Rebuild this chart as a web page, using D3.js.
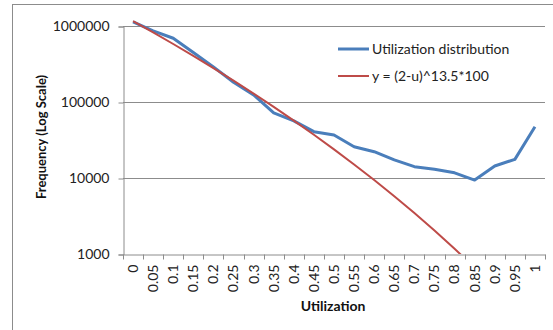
<!DOCTYPE html>
<html>
<head>
<meta charset="utf-8">
<script src="https://cdn.jsdelivr.net/npm/d3@7"></script>
<style>
  html, body { margin: 0; padding: 0; background: #fff; }
  svg { display: block; font-family: Lato, "Open Sans", sans-serif; }
</style>
</head>
<body>
<svg id="chart" width="553" height="330"></svg>
<script>
// Utilization categories (x axis)
const utilization = ["0","0.05","0.1","0.15","0.2","0.25","0.3","0.35","0.4","0.45","0.5",
                     "0.55","0.6","0.65","0.7","0.75","0.8","0.85","0.9","0.95","1"];

// Observed frequency per utilization bucket
const distribution = [1130000, 865000, 690000, 448000, 290000, 182000, 124000, 72000, 56500, 40700,
                      36800, 25800, 22200, 17300, 14100, 13000, 11700, 9400, 14400, 17600, 47300];

// Model curve y = (2-u)^13.5*100
const model = [1158524, 823130, 579660, 404410, 279370, 190990, 129140, 86300, 56965, 37109,
               23836, 15082, 9391, 5748, 3453, 2034, 1172, 660, 362, 193, 100];

const yTicks = [1000, 10000, 100000, 1000000];

const seriesNames = ["Utilization distribution", "y = (2-u)^13.5*100"];
const seriesColors = ["#4a7ebb", "#be4b48"];

const svg = d3.select("#chart");
const plot = { left: 123, right: 545, top: 26, bottom: 254 };

// chart frame
svg.append("rect")
  .attr("x", 12.5).attr("y", 4.5)
  .attr("width", 600).attr("height", 400)
  .attr("fill", "none").attr("stroke", "#8c8c8c").attr("stroke-width", 1);

const x = d3.scaleBand().domain(utilization).range([plot.left, plot.right]);
const y = d3.scaleLog().domain([1000, 1000000]).range([plot.bottom, plot.top]);
const cx = d => x(d) + x.bandwidth() / 2;

// horizontal gridlines
svg.append("g")
  .selectAll("line")
  .data(yTicks.slice(1))
  .join("line")
  .attr("x1", plot.left).attr("x2", plot.right)
  .attr("y1", d => Math.round(y(d)) + 0.5).attr("y2", d => Math.round(y(d)) + 0.5)
  .attr("stroke", "#8c8c8c").attr("stroke-width", 1);

// y axis
const yAxis = svg.append("g")
  .attr("transform", `translate(${plot.left + 0.5},0.5)`)
  .call(d3.axisLeft(y).tickValues(yTicks).tickFormat(d3.format("d")).tickSize(5).tickPadding(9));
yAxis.select(".domain").attr("stroke", "#8c8c8c");
yAxis.selectAll(".tick line").attr("stroke", "#8c8c8c");
yAxis.selectAll("text").attr("font-size", 14).attr("fill", "#222").attr("font-family", "Lato, sans-serif");

// x axis with rotated category labels
const xAxis = svg.append("g")
  .attr("transform", `translate(0,${plot.bottom + 0.5})`)
  .call(d3.axisBottom(x).tickSize(0).tickPadding(0));
xAxis.select(".domain").attr("stroke", "#8c8c8c");
xAxis.selectAll("text")
  .attr("font-size", 14).attr("fill", "#222").attr("font-family", "Lato, sans-serif")
  .attr("transform", "rotate(-90)")
  .attr("text-anchor", "end")
  .attr("x", -10).attr("y", 0).attr("dy", "0.35em");

// tick marks between categories
const bounds = utilization.map(d => x(d)).concat([plot.right]);
xAxis.append("g")
  .selectAll("line")
  .data(bounds)
  .join("line")
  .attr("x1", d => Math.round(d) + 0.5).attr("x2", d => Math.round(d) + 0.5)
  .attr("y1", 0).attr("y2", 5)
  .attr("stroke", "#8c8c8c");

// axis titles
svg.append("text")
  .attr("transform", `translate(46,137) rotate(-90)`)
  .attr("text-anchor", "middle")
  .attr("font-size", 13).attr("font-weight", "bold").attr("fill", "#111")
  .text("Frequency (Log Scale)");

svg.append("text")
  .attr("x", 333).attr("y", 311)
  .attr("text-anchor", "middle")
  .attr("font-size", 14).attr("font-weight", "bold").attr("fill", "#111")
  .text("Utilization");

// clip lines to plot area
svg.append("clipPath").attr("id", "plotClip")
  .append("rect")
  .attr("x", plot.left).attr("y", 0)
  .attr("width", plot.right - plot.left).attr("height", plot.bottom);

const line = d3.line()
  .x((d, i) => cx(utilization[i]))
  .y(d => y(d));

const lines = svg.append("g").attr("clip-path", "url(#plotClip)");

lines.append("path")
  .datum(distribution)
  .attr("d", line)
  .attr("fill", "none")
  .attr("stroke", seriesColors[0]).attr("stroke-width", 3)
  .attr("stroke-linejoin", "round");

lines.append("path")
  .datum(model)
  .attr("d", line)
  .attr("fill", "none")
  .attr("stroke", seriesColors[1]).attr("stroke-width", 2)
  .attr("stroke-linejoin", "round");

// legend
const legend = svg.append("g");
seriesNames.forEach((name, i) => {
  const ly = 49 + i * 27;
  legend.append("line")
    .attr("x1", 338).attr("x2", 369)
    .attr("y1", ly).attr("y2", ly)
    .attr("stroke", seriesColors[i]).attr("stroke-width", i === 0 ? 3 : 2);
  legend.append("text")
    .attr("x", 372).attr("y", ly).attr("dy", "0.35em")
    .attr("font-size", 14).attr("fill", "#222")
    .text(name);
});
</script>
</body>
</html>
